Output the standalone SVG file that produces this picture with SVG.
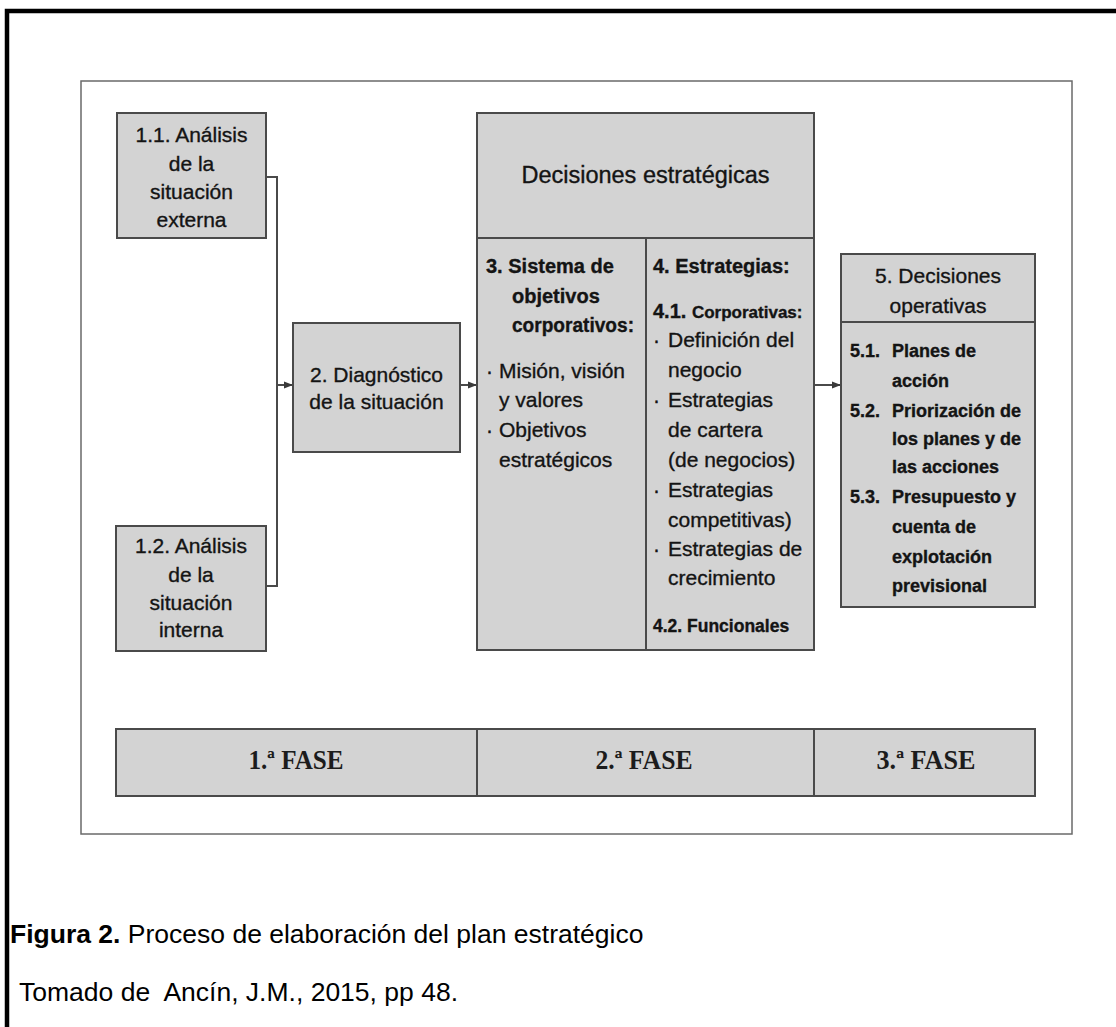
<svg xmlns="http://www.w3.org/2000/svg" width="1116" height="1027" viewBox="0 0 1116 1027">
<defs>
<style>
.box{fill:#d3d3d3;stroke:#4a4a4a;stroke-width:2}
.ln{stroke:#4a4a4a;stroke-width:2;fill:none}
.t{font-family:"Liberation Sans",Arial,sans-serif;font-size:21px;fill:#141414;stroke:#141414;stroke-width:0.35px}
.c{text-anchor:middle}
.b{font-weight:bold;font-size:20px}
.h{font-size:23.5px}
.sm{font-size:17px;font-weight:bold}
.b5{font-weight:bold;font-size:18px}
.fase{font-family:"Liberation Serif","Times New Roman",serif;font-weight:bold;font-size:27px;fill:#1c1c1c;text-anchor:middle}
.cap{font-family:"Liberation Sans",Arial,sans-serif;font-size:26.5px;fill:#000}
</style>
<marker id="ah" markerWidth="9" markerHeight="8" refX="9" refY="4" orient="auto" markerUnits="userSpaceOnUse"><path d="M0,0.5 L9,4 L0,7.5 z" fill="#3a3a3a"/></marker>
</defs>
<rect width="1116" height="1027" fill="#fff"/>
<path id="page-border" d="M7,1027 V11 H1116" fill="none" stroke="#000" stroke-width="4.5"/>
<rect id="frame" x="81" y="81" width="991" height="753" fill="#fff" stroke="#6a6a6a" stroke-width="1.5"/>

<g id="connectors">
<path class="ln" d="M266,177 H277 V586 H266"/>
<line class="ln" x1="277" y1="385" x2="293" y2="385" marker-end="url(#ah)"/>
<line class="ln" x1="460" y1="385" x2="477" y2="385" marker-end="url(#ah)"/>
<line class="ln" x1="814" y1="385" x2="841" y2="385" marker-end="url(#ah)"/>
</g>

<g id="n11">
<rect class="box" x="117" y="113" width="149" height="125"/>
<text class="t c" x="191.5" y="142">1.1. Análisis</text>
<text class="t c" x="191.5" y="170.5">de la</text>
<text class="t c" x="191.5" y="199">situación</text>
<text class="t c" x="191.5" y="227">externa</text>
</g>

<g id="n12">
<rect class="box" x="116" y="526" width="150" height="125"/>
<text class="t c" x="191" y="553">1.2. Análisis</text>
<text class="t c" x="191" y="582">de la</text>
<text class="t c" x="191" y="610">situación</text>
<text class="t c" x="191" y="637">interna</text>
</g>

<g id="n2">
<rect class="box" x="293" y="323" width="167" height="129"/>
<text class="t c" x="376.5" y="382">2. Diagnóstico</text>
<text class="t c" x="376.5" y="409">de la situación</text>
</g>

<g id="n-decisiones">
<rect class="box" x="477" y="113" width="337" height="537"/>
<line class="ln" x1="477" y1="238" x2="814" y2="238"/>
<line class="ln" x1="646" y1="238" x2="646" y2="650"/>
<text class="t c h" x="645.5" y="183">Decisiones estratégicas</text>
</g>

<g id="n3">
<text class="t b" x="486" y="273">3. Sistema de</text>
<text class="t b" x="512" y="303">objetivos</text>
<text class="t b" x="512" y="332" textLength="122" lengthAdjust="spacingAndGlyphs">corporativos:</text>
<text class="t" x="486" y="378">·</text>
<text class="t" x="499" y="378">Misión, visión</text>
<text class="t" x="499" y="407">y valores</text>
<text class="t" x="486" y="437">·</text>
<text class="t" x="499" y="437">Objetivos</text>
<text class="t" x="499" y="467">estratégicos</text>
</g>

<g id="n4">
<text class="t b" x="653" y="273">4. Estrategias:</text>
<text class="t b" x="653" y="318">4.1. <tspan class="sm">Corporativas:</tspan></text>
<text class="t" x="653" y="347">·</text>
<text class="t" x="668" y="347">Definición del</text>
<text class="t" x="668" y="377">negocio</text>
<text class="t" x="653" y="407">·</text>
<text class="t" x="668" y="407">Estrategias</text>
<text class="t" x="668" y="437">de cartera</text>
<text class="t" x="668" y="467">(de negocios)</text>
<text class="t" x="653" y="497">·</text>
<text class="t" x="668" y="497">Estrategias</text>
<text class="t" x="668" y="527">competitivas)</text>
<text class="t" x="653" y="556">·</text>
<text class="t" x="668" y="556">Estrategias de</text>
<text class="t" x="668" y="585">crecimiento</text>
<text class="t b" x="653" y="632" style="font-size:17.5px">4.2. Funcionales</text>
</g>

<g id="n5">
<rect class="box" x="841" y="254" width="194" height="353"/>
<line class="ln" x1="841" y1="322" x2="1035" y2="322"/>
<text class="t c" x="938" y="283">5. Decisiones</text>
<text class="t c" x="938" y="313">operativas</text>
<text class="t b5" x="850" y="357">5.1.</text>
<text class="t b5" x="892" y="357">Planes de</text>
<text class="t b5" x="892" y="387">acción</text>
<text class="t b5" x="850" y="417">5.2.</text>
<text class="t b5" x="892" y="417">Priorización de</text>
<text class="t b5" x="892" y="445">los planes y de</text>
<text class="t b5" x="892" y="473">las acciones</text>
<text class="t b5" x="850" y="503">5.3.</text>
<text class="t b5" x="892" y="503">Presupuesto y</text>
<text class="t b5" x="892" y="533">cuenta de</text>
<text class="t b5" x="892" y="563">explotación</text>
<text class="t b5" x="892" y="592">previsional</text>
</g>

<g id="fases">
<rect class="box" x="116" y="729" width="919" height="67" stroke-width="2.5"/>
<line class="ln" x1="477" y1="729" x2="477" y2="796"/>
<line class="ln" x1="814" y1="729" x2="814" y2="796"/>
<text class="fase" x="296" y="769" textLength="95" lengthAdjust="spacingAndGlyphs">1.ª FASE</text>
<text class="fase" x="644" y="769" textLength="97" lengthAdjust="spacingAndGlyphs">2.ª FASE</text>
<text class="fase" x="926" y="769" textLength="99" lengthAdjust="spacingAndGlyphs">3.ª FASE</text>
</g>

<g id="caption">
<text class="cap" x="10" y="943"><tspan font-weight="bold">Figura 2.</tspan> Proceso de elaboración del plan estratégico</text>
<text class="cap" x="19" y="1001" xml:space="preserve">Tomado de  Ancín, J.M., 2015, pp 48.</text>
</g>
</svg>
